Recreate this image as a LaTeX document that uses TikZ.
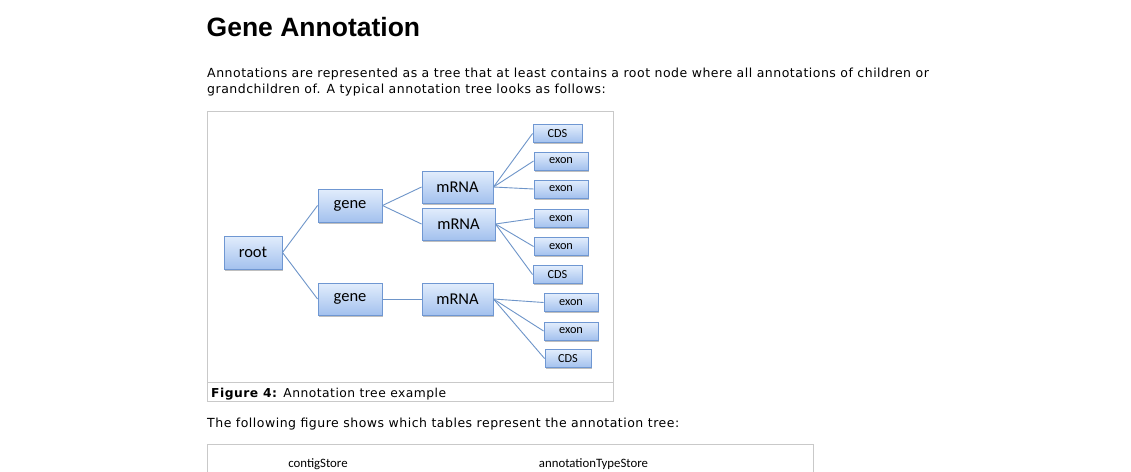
\documentclass[tikz,border=0pt]{standalone}
\usepackage{fontspec}
\setmainfont{DejaVu Sans}[LetterSpace=4.0]
\newfontfamily\headfont{Liberation Sans}
\newfontfamily\boxfont{Carlito}
\usetikzlibrary{shadows}
\definecolor{edgeblue}{HTML}{6E95C9}
\definecolor{boxline}{HTML}{6F97D2}
\definecolor{boxtop}{HTML}{E2EDFC}
\definecolor{boxbot}{HTML}{A3C1EE}
\definecolor{framegray}{HTML}{C9C9C9}
\tikzset{
  txt/.style={anchor=base west, inner sep=0pt, font=\fontsize{12.5}{14}\selectfont},
  captxt/.style={anchor=base west, inner sep=0pt, font=\fontsize{12.3}{14}\selectfont},
  tbox/.style={draw=boxline, line width=0.9pt, top color=boxtop, bottom color=boxbot,
    inner sep=0pt, text=black,
    drop shadow={shadow xshift=1pt, shadow yshift=-1.5pt, opacity=0.25, fill=black}},
  bigbox/.style={tbox, font=\boxfont\fontsize{16.5}{18}\selectfont},
  smallbox/.style={tbox, minimum height=18pt, font=\boxfont\fontsize{12.3}{14}\selectfont},
  link/.style={draw=edgeblue, line width=0.9pt},
  frameline/.style={draw=framegray, line width=1pt},
  storelabel/.style={anchor=base, inner sep=0pt, font=\boxfont\fontsize{12.8}{14}\selectfont}
}
\begin{document}
\begin{tikzpicture}[x=1pt, y=-1pt]
\useasboundingbox[fill=white] (0,0) rectangle (1131,471);

% heading and introduction
\node[anchor=base west, inner sep=0pt, font=\headfont\bfseries\fontsize{26.5}{28}\selectfont] (title) at (206.5,36) {Gene Annotation};
\node[txt] (intro1) at (207,77.3) {Annotations are represented as a tree that at least contains a root node where all annotations of children or};
\node[txt] (intro2) at (207,93.3) {grandchildren of. A typical annotation tree looks as follows:};

% figure frame with caption
\draw[frameline] (207,111) rectangle (613,401);
\draw[frameline] (207,382) -- (613,382);
\node[captxt] (caption) at (211,397) {\textbf{Figure 4:} Annotation tree example};

% tree nodes
\node[bigbox, minimum width=58pt, minimum height=33pt] (root) at (253,252.5) {root};
\node[bigbox, minimum width=64pt, minimum height=33pt] (gene1) at (350,205.5) {gene};
\node[bigbox, minimum width=64pt, minimum height=32pt] (gene2) at (350,299) {gene};
\node[bigbox, minimum width=71pt, minimum height=32pt] (mrna1) at (457.5,187) {mRNA};
\node[bigbox, minimum width=73pt, minimum height=32pt] (mrna2) at (458.5,224) {mRNA};
\node[bigbox, minimum width=71pt, minimum height=32pt] (mrna3) at (457.5,299) {mRNA};

\node[smallbox, minimum width=49pt] (cds1) at (557.5,133.5) {CDS};
\node[smallbox, minimum width=54pt] (exon1) at (561,161) {exon};
\node[smallbox, minimum width=54pt] (exon2) at (561,189) {exon};
\node[smallbox, minimum width=54pt] (exon3) at (561,218.5) {exon};
\node[smallbox, minimum width=54pt] (exon4) at (561,246.5) {exon};
\node[smallbox, minimum width=49pt] (cds2) at (557.5,274.5) {CDS};
\node[smallbox, minimum width=54pt] (exon5) at (571,302.5) {exon};
\node[smallbox, minimum width=54pt] (exon6) at (571,331) {exon};
\node[smallbox, minimum width=46pt] (cds3) at (568,358.5) {CDS};

% tree edges
\foreach \p/\c in {root/gene1, root/gene2, gene1/mrna1, gene1/mrna2, gene2/mrna3,
                   mrna1/cds1, mrna1/exon1, mrna1/exon2,
                   mrna2/exon3, mrna2/exon4, mrna2/cds2,
                   mrna3/exon5, mrna3/exon6, mrna3/cds3}
  \draw[link] (\p.east) -- (\c.west);

% following paragraph and the next figure
\node[txt] (follow) at (207,427.3) {The following figure shows which tables represent the annotation tree:};
\draw[frameline] (207,480) -- (207,444) -- (813,444) -- (813,480);
\node[storelabel] (contig) at (318,467) {contigStore};
\node[storelabel] (anntype) at (593.5,467) {annotationTypeStore};
\end{tikzpicture}
\end{document}
